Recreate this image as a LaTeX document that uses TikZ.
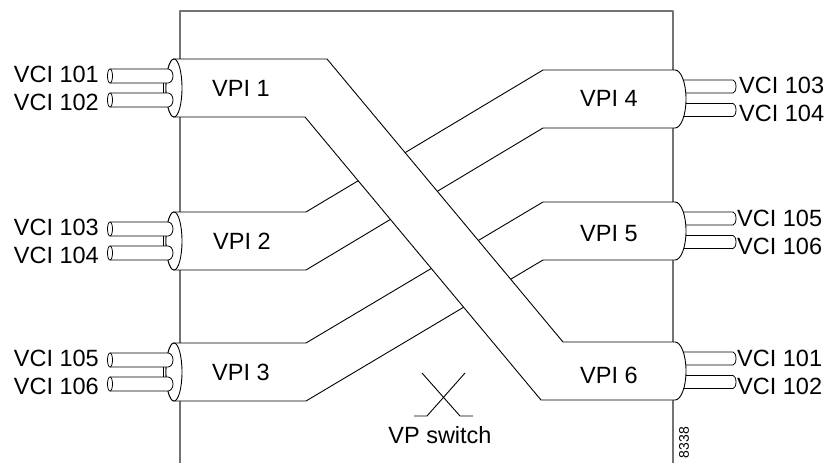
\documentclass[tikz,border=0pt]{standalone}
\usepackage{fontspec}
\setmainfont{Liberation Sans}
\begin{document}
\begin{tikzpicture}[x=1pt,y=-1pt,line join=round,
  pipe/.style={draw=black,line width=0.9pt,fill=white},
  tube/.style={draw=black,line width=0.8pt,fill=white},
  boxline/.style={draw=black!55,line width=1.3pt},
  lab/.style={font=\fontsize{23.5}{28}\selectfont,inner sep=0pt,text height=16.8pt,text depth=0pt},
  smalllab/.style={font=\fontsize{14}{16}\selectfont,inner sep=0pt},
  xmark/.style={draw=black,line width=0.9pt}]
\useasboundingbox (0,0) rectangle (825,463);
% switch box
\draw[boxline] (180,463) -- (180,11) -- (673,11) -- (673,463);
% right tubes (drawn first, pipe ends cover their start)
\foreach \c in {86.5,110, 218.5,242, 358.5,382}{
  \filldraw[tube] (675,\c-6.5) -- (733,\c-6.5) arc[start angle=-90,end angle=90,x radius=3,y radius=6.5] -- (675,\c+6.5);
}
% band VPI2 -> VPI4
\filldraw[pipe] (174,212) -- (306,212) -- (543,70) -- (675,70)
  arc[start angle=-90,end angle=90,x radius=11,y radius=29]
  -- (543,128) -- (306,270) -- (174,270)
  arc[start angle=90,end angle=270,x radius=8,y radius=29] -- cycle;
% band VPI3 -> VPI5
\filldraw[pipe] (174,343) -- (306,343) -- (543,202) -- (675,202)
  arc[start angle=-90,end angle=90,x radius=11,y radius=29]
  -- (543,260) -- (306,401) -- (174,401)
  arc[start angle=90,end angle=270,x radius=8,y radius=29] -- cycle;
% band VPI1 -> VPI6 (on top)
\filldraw[pipe] (174,59) -- (327,59) -- (563,342) -- (675,342)
  arc[start angle=-90,end angle=90,x radius=11,y radius=29]
  -- (541,400) -- (305,117) -- (174,117)
  arc[start angle=90,end angle=270,x radius=8,y radius=29] -- cycle;
% left end faces
\foreach \m in {88,241,372}{
  \filldraw[pipe] (174,\m) ellipse[x radius=8,y radius=29];
}
% left tubes
\foreach \c in {76,100, 229,253, 360,384}{
  \filldraw[tube] (110,\c-7) -- (168,\c-7) arc[start angle=-90,end angle=90,x radius=5,y radius=7] -- (110,\c+7);
  \filldraw[tube] (110,\c) ellipse[x radius=2.5,y radius=7];
}
\foreach \m in {88,241,372}{
  \draw[tube] (163,\m-5) -- (163,\m+5);
}
% VCI labels left
\node[lab,anchor=east] (l101) at (99,74) {VCI 101};
\node[lab,anchor=east] (l102) at (99,102) {VCI 102};
\node[lab,anchor=east] (l103) at (99,227) {VCI 103};
\node[lab,anchor=east] (l104) at (99,255.5) {VCI 104};
\node[lab,anchor=east] (l105) at (99,358.5) {VCI 105};
\node[lab,anchor=east] (l106) at (99,386.5) {VCI 106};
% VCI labels right
\node[lab,anchor=west] (r103) at (739,85.5) {VCI 103};
\node[lab,anchor=west] (r104) at (739,113.5) {VCI 104};
\node[lab,anchor=west] (r105) at (737,218.5) {VCI 105};
\node[lab,anchor=west] (r106) at (737,246) {VCI 106};
\node[lab,anchor=west] (r101) at (737,358) {VCI 101};
\node[lab,anchor=west] (r102) at (737,386.5) {VCI 102};
% VPI labels
\node[lab,anchor=west] (vpi1) at (212,88) {VPI 1};
\node[lab,anchor=west] (vpi2) at (213,241.5) {VPI 2};
\node[lab,anchor=west] (vpi3) at (212,372) {VPI 3};
\node[lab,anchor=west] (vpi4) at (580,98.5) {VPI 4};
\node[lab,anchor=west] (vpi5) at (580,233) {VPI 5};
\node[lab,anchor=west] (vpi6) at (580,375) {VPI 6};
% VP switch symbol
\coordinate (xa) at (422,373);
\coordinate (xb) at (460,416);
\coordinate (xc) at (473,416);
\coordinate (xd) at (465,373);
\coordinate (xe) at (427,416);
\coordinate (xf) at (414,416);
\draw[xmark] (xa) -- (xb) -- (xc);
\draw[xmark] (xd) -- (xe) -- (xf);
\node[lab,anchor=base,text height=,text depth=] (vps) at (440,443.5) {VP switch};
\node[smalllab,rotate=90] (fig) at (684,442.5) {8338};
\end{tikzpicture}
\end{document}
